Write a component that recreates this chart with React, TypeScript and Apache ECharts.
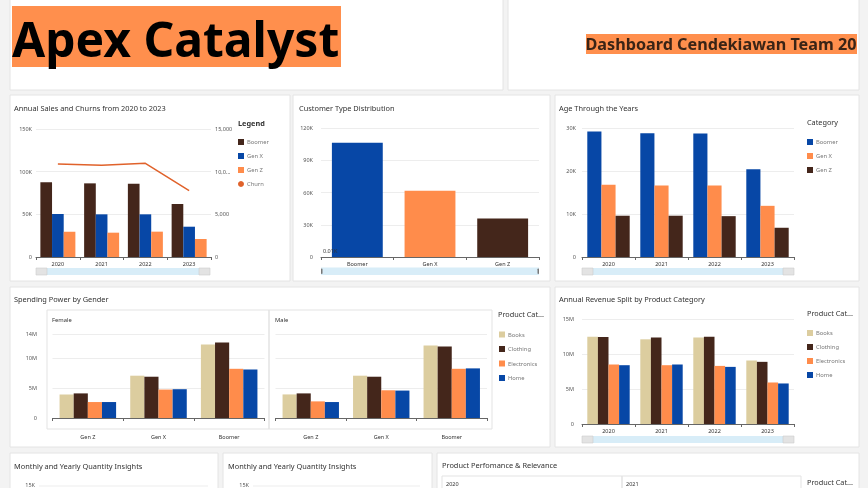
import React, { useEffect, useRef } from 'react';
import * as echarts from 'echarts';

// ---------- data ----------
const years = ['2020', '2021', '2022', '2023'];
const salesBoomer = [87500, 86300, 85900, 62100];
const salesGenX = [50400, 50000, 50000, 35500];
const salesGenZ = [29700, 28500, 29700, 21100];
const churnCounts = [10900, 10750, 10980, 7780];
const salesTicks = [0, 50000, 100000, 150000];
const churnTickLabels: Record<number, string> = { 0: '0', 5000: '5,000', 10000: '10,0...', 15000: '15,000' };

const customerTypes = ['Boomer', 'Gen X', 'Gen Z'];
const customerCounts = [106300, 61600, 35800];

const ageBoomer = [29200, 28800, 28700, 20400];
const ageGenX = [16800, 16600, 16600, 11900];
const ageGenZ = [9600, 9600, 9500, 6800];

const generations = ['Gen Z', 'Gen X', 'Boomer'];
const femaleBooks = [3.93e6, 7.05e6, 12.25e6];
const femaleClothing = [4.1e6, 6.88e6, 12.6e6];
const femaleElectronics = [2.66e6, 4.74e6, 8.2e6];
const femaleHome = [2.66e6, 4.8e6, 8.09e6];
const maleBooks = [3.93e6, 7.05e6, 12.08e6];
const maleClothing = [4.1e6, 6.88e6, 11.9e6];
const maleElectronics = [2.77e6, 4.62e6, 8.2e6];
const maleHome = [2.66e6, 4.57e6, 8.27e6];

const revBooks = [12.48e6, 12.1e6, 12.34e6, 9.07e6];
const revClothing = [12.44e6, 12.34e6, 12.48e6, 8.88e6];
const revElectronics = [8.5e6, 8.4e6, 8.3e6, 5.93e6];
const revHome = [8.4e6, 8.5e6, 8.16e6, 5.79e6];

const productCategories = ['Books', 'Clothing', 'Electronics', 'Home'];
const genLegend = ['Boomer', 'Gen X', 'Gen Z'];

// ---------- style ----------
const FONT = '"Noto Sans", "Open Sans", sans-serif';
const BROWN = '#44261b';
const BLUE = '#0747a6';
const ORANGE = '#ff8c4b';
const BEIGE = '#dccd9f';
const CHURN = '#e0622b';
const HEADER_ORANGE = '#ff8f4d';
const AX_FS = 5.5;
const TITLE_FS = 7.4;
const LEG_FS = 5.8;
const LEG_HEAD_FS = 7.3;

const kFmt = (v: number) => (v === 0 ? '0' : `${Math.round(v / 1000)}K`);
const mFmt = (v: number) => (v === 0 ? '0' : `${Math.round(v / 1e6)}M`);

function yAx(gridIndex: number, max: number, interval: number, fmt: (v: number) => string, margin: number, show = true) {
  return {
    type: 'value', gridIndex, min: 0, max, interval,
    axisLine: { show: false }, axisTick: { show: false },
    splitLine: { lineStyle: { color: '#ededed', width: 1 } },
    axisLabel: { show, formatter: fmt, fontSize: AX_FS, color: '#555', fontFamily: FONT, margin, showMaxLabel: true },
  };
}
function xAx(gridIndex: number, data: string[], margin: number) {
  return {
    type: 'category', gridIndex, data,
    axisLine: { lineStyle: { color: '#666', width: 1 } },
    axisTick: { show: true, length: 3, lineStyle: { color: '#666' } },
    axisLabel: { fontSize: AX_FS, color: '#333', fontFamily: FONT, margin },
  };
}
function bar(name: string, data: number[], color: string, xi: number, yi: number, gap = '20%') {
  return {
    type: 'bar', name, data, xAxisIndex: xi, yAxisIndex: yi,
    itemStyle: { color }, barGap: '0%', barCategoryGap: gap,
  };
}

function panel(x: number, y: number, w: number, h: number) {
  return { type: 'rect', shape: { x, y, width: w, height: h }, style: { fill: '#fff', stroke: '#e4e4e4', lineWidth: 1 }, silent: true };
}
function txt(x: number, y: number, text: string, size: number, color = '#333', weight: any = 'normal', align = 'left', z = 0) {
  return { type: 'text', x, y, z, style: { text, fontSize: size, fill: color, fontFamily: FONT, fontWeight: weight, align, verticalAlign: 'middle' }, silent: true };
}
function legendBlock(x: number, y0: number, gap: number, names: string[], colors: string[], circleLast = false) {
  const out: any[] = [];
  names.forEach((n, i) => {
    const cy = y0 + i * gap;
    if (circleLast && i === names.length - 1) {
      out.push({ type: 'circle', shape: { cx: x + 3, cy, r: 3 }, style: { fill: colors[i] }, silent: true });
    } else {
      out.push({ type: 'rect', shape: { x, y: cy - 3, width: 6, height: 6 }, style: { fill: colors[i] }, silent: true });
    }
    out.push(txt(x + 9, cy, n, LEG_FS, '#777'));
  });
  return out;
}
function slider(x1: number, x2: number, y: number, h: number, thinHandles = false) {
  const out: any[] = [
    { type: 'rect', shape: { x: x1, y, width: x2 - x1, height: h }, style: { fill: '#d8edf8' }, silent: true },
  ];
  if (thinHandles) {
    out.push({ type: 'rect', shape: { x: x1, y: y + 1, width: 1.5, height: h - 2, r: 0.7 }, style: { fill: '#777' }, silent: true });
    out.push({ type: 'rect', shape: { x: x2 - 1.5, y: y + 1, width: 1.5, height: h - 2, r: 0.7 }, style: { fill: '#777' }, silent: true });
  } else {
    out.push({ type: 'rect', shape: { x: x1, y, width: 11, height: h }, style: { fill: '#e3e3e3', stroke: '#cfcfcf', lineWidth: 0.6 }, silent: true });
    out.push({ type: 'rect', shape: { x: x2 - 11, y, width: 11, height: h }, style: { fill: '#e3e3e3', stroke: '#cfcfcf', lineWidth: 0.6 }, silent: true });
  }
  return out;
}

export default function App() {
  const ref = useRef<HTMLDivElement>(null);
  useEffect(() => {
    if (!ref.current) return;
    const chart = echarts.init(ref.current, null, { renderer: 'svg' });

    const graphics: any[] = [
      { type: 'rect', shape: { x: 0, y: 0, width: 868, height: 488 }, style: { fill: '#f3f3f3' }, silent: true, z: -10 },
      panel(10, -2, 493, 92),
      panel(508, -2, 351, 92),
      panel(10, 95, 280, 186),
      panel(293, 95, 257, 186),
      panel(555, 95, 304, 186),
      panel(10, 287, 540, 160),
      panel(555, 287, 304, 160),
      panel(10, 453, 208, 45),
      panel(223, 453, 209, 45),
      panel(437, 453, 422, 45),
      // header
      { type: 'rect', shape: { x: 12, y: 6, width: 329, height: 61 }, style: { fill: HEADER_ORANGE }, silent: true },
      txt(12, 38, 'Apex Catalyst', 48, '#000', 'bold'),
      { type: 'rect', shape: { x: 586, y: 34, width: 271, height: 20 }, style: { fill: HEADER_ORANGE }, silent: true },
      txt(856.5, 44, 'Dashboard Cendekiawan Team 20', 16.2, '#3a2416', 'bold', 'right'),
      // titles
      txt(14, 108, 'Annual Sales and Churns from 2020 to 2023', TITLE_FS),
      txt(299, 108, 'Customer Type Distribution', TITLE_FS),
      txt(559, 108, 'Age Through the Years', TITLE_FS),
      txt(14, 299, 'Spending Power by Gender', TITLE_FS),
      txt(559, 299, 'Annual Revenue Split by Product Category', TITLE_FS),
      txt(14, 466, 'Monthly and Yearly Quantity Insights', TITLE_FS),
      txt(228, 466, 'Monthly and Yearly Quantity Insights', TITLE_FS),
      txt(442, 465, 'Product Perfomance & Relevance', TITLE_FS),
      // legends
      txt(238, 123, 'Legend', LEG_HEAD_FS, '#333', 'bold'),
      ...legendBlock(238, 142, 14, [...genLegend, 'Churn'], [BROWN, BLUE, ORANGE, CHURN], true),
      txt(807, 122, 'Category', LEG_HEAD_FS, '#333'),
      ...legendBlock(807, 142, 14, genLegend, [BLUE, ORANGE, BROWN]),
      txt(498, 314, 'Product Cat...', LEG_HEAD_FS, '#333'),
      ...legendBlock(499, 334.5, 14.5, productCategories, [BEIGE, BROWN, ORANGE, BLUE]),
      txt(807, 313, 'Product Cat...', LEG_HEAD_FS, '#333'),
      ...legendBlock(807, 333, 14, productCategories, [BEIGE, BROWN, ORANGE, BLUE]),
      // facet boxes for spending power
      { type: 'rect', shape: { x: 47, y: 310, width: 222, height: 119 }, style: { fill: 'none', stroke: '#e3e3e3', lineWidth: 1 }, silent: true },
      { type: 'rect', shape: { x: 269, y: 310, width: 223, height: 119 }, style: { fill: 'none', stroke: '#e3e3e3', lineWidth: 1 }, silent: true },
      txt(52, 320, 'Female', 5.8, '#333'),
      txt(275, 320, 'Male', 5.8, '#333'),
      // misc
      txt(323, 251, '0.01K', AX_FS, '#333', 'normal', 'left', 100),
      // sliders
      ...slider(36, 210, 268, 7),
      ...slider(321, 539, 267.5, 7.5, true),
      ...slider(582, 794, 268, 7),
      ...slider(582, 794, 436, 7),
      // bottom row fragments
      txt(35, 484.5, '15K', AX_FS, '#555', 'normal', 'right'),
      { type: 'line', shape: { x1: 39, y1: 486, x2: 208, y2: 486 }, style: { stroke: '#ededed', lineWidth: 1 }, silent: true },
      txt(249, 484.5, '15K', AX_FS, '#555', 'normal', 'right'),
      { type: 'line', shape: { x1: 253, y1: 486, x2: 420, y2: 486 }, style: { stroke: '#ededed', lineWidth: 1 }, silent: true },
      { type: 'rect', shape: { x: 442, y: 476, width: 180, height: 20 }, style: { fill: 'none', stroke: '#e3e3e3', lineWidth: 1 }, silent: true },
      { type: 'rect', shape: { x: 622, y: 476, width: 179, height: 20 }, style: { fill: 'none', stroke: '#e3e3e3', lineWidth: 1 }, silent: true },
      txt(446, 484, '2020', AX_FS, '#333'),
      txt(626, 484, '2021', AX_FS, '#333'),
      txt(807, 482, 'Product Cat...', LEG_HEAD_FS, '#333'),
    ];

    const option: any = {
      animation: false,
      textStyle: { fontFamily: FONT },
      grid: [
        { left: 36, top: 129, width: 175, height: 128 },
        { left: 321, top: 128, width: 218, height: 129 },
        { left: 582, top: 128, width: 212, height: 129 },
        { left: 52.5, top: 334, width: 212, height: 84 },
        { left: 275.5, top: 334, width: 211.5, height: 84 },
        { left: 582, top: 319, width: 212, height: 105 },
      ],
      xAxis: [
        xAx(0, years, 4),
        xAx(1, customerTypes, 4),
        xAx(2, years, 4),
        xAx(3, generations, 16),
        xAx(4, generations, 16),
        xAx(5, years, 4),
      ],
      yAxis: [
        yAx(0, salesTicks[salesTicks.length - 1], salesTicks[1], kFmt, 4),
        {
          type: 'value', gridIndex: 0, position: 'right', min: 0, max: 15000, interval: 5000,
          axisLine: { show: false }, axisTick: { show: false }, splitLine: { show: false },
          axisLabel: { formatter: (v: number) => churnTickLabels[v] ?? String(v), fontSize: AX_FS, color: '#555', fontFamily: FONT, margin: 4 },
        },
        yAx(1, 120000, 30000, kFmt, 8),
        yAx(2, 30000, 10000, kFmt, 6),
        yAx(3, 14e6, 5e6, mFmt, 15.5),
        yAx(4, 14e6, 5e6, mFmt, 4, false),
        yAx(5, 15e6, 5e6, mFmt, 8),
      ],
      series: [
        bar('Boomer', salesBoomer, BROWN, 0, 0),
        bar('Gen X', salesGenX, BLUE, 0, 0),
        bar('Gen Z', salesGenZ, ORANGE, 0, 0),
        {
          type: 'line', name: 'Churn', data: churnCounts, xAxisIndex: 0, yAxisIndex: 1,
          showSymbol: false, lineStyle: { color: CHURN, width: 1.5 }, itemStyle: { color: CHURN }, z: 5,
        },
        {
          type: 'bar', name: 'Customers', xAxisIndex: 1, yAxisIndex: 2, barCategoryGap: '30%',
          data: customerCounts.map((v, i) => ({ value: v, itemStyle: { color: [BLUE, ORANGE, BROWN][i] } })),
        },
        bar('Boomer', ageBoomer, BLUE, 2, 3),
        bar('Gen X', ageGenX, ORANGE, 2, 3),
        bar('Gen Z', ageGenZ, BROWN, 2, 3),
        bar('Books', femaleBooks, BEIGE, 3, 4),
        bar('Clothing', femaleClothing, BROWN, 3, 4),
        bar('Electronics', femaleElectronics, ORANGE, 3, 4),
        bar('Home', femaleHome, BLUE, 3, 4),
        bar('Books', maleBooks, BEIGE, 4, 5),
        bar('Clothing', maleClothing, BROWN, 4, 5),
        bar('Electronics', maleElectronics, ORANGE, 4, 5),
        bar('Home', maleHome, BLUE, 4, 5),
        bar('Books', revBooks, BEIGE, 5, 6),
        bar('Clothing', revClothing, BROWN, 5, 6),
        bar('Electronics', revElectronics, ORANGE, 5, 6),
        bar('Home', revHome, BLUE, 5, 6),
      ],
      graphic: graphics,
    };
    chart.setOption(option);
    return () => chart.dispose();
  }, []);
  return <div ref={ref} style={{ position: 'fixed', left: 0, top: 0, width: 868, height: 488 }} />;
}
